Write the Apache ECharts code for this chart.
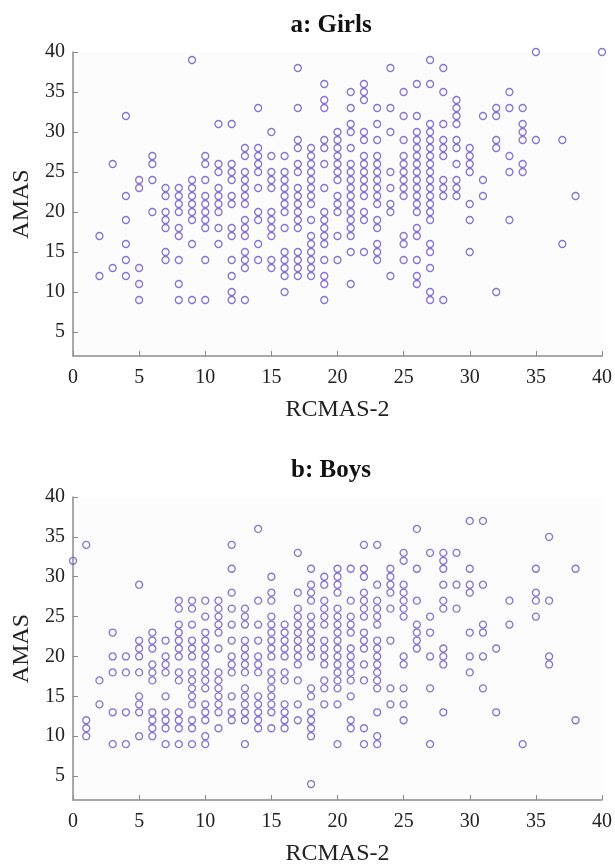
<!DOCTYPE html>
<html>
<head>
<meta charset="utf-8">
<script src="https://cdn.jsdelivr.net/npm/echarts@6/dist/echarts.min.js"></script>
<style>
  html, body { margin: 0; padding: 0; background: #fff; }
  #chart { width: 615px; height: 867px; }
</style>
</head>
<body>
<div id="chart"></div>
<script>
// RCMAS-2 score (x) and the AMAS scores seen at that x, column by column
const girlsRcmas = [2, 3, 4, 5, 6, 7, 8, 9, 10, 11, 12, 13, 14, 15, 16, 17, 18, 19, 20, 21,
    22, 23, 24, 25, 26, 27, 28, 29, 30, 31, 32, 33, 34, 35, 37, 38, 40];
const girlsAmas = [
    [17, 12],
    [26, 13],
    [32, 22, 19, 16, 14, 12],
    [24, 23, 13, 11, 9],
    [27, 26, 24, 20],
    [23, 22, 20, 19, 18, 15, 14],
    [23, 22, 21, 20, 18, 17, 14, 11, 9],
    [39, 24, 23, 22, 21, 20, 19, 16, 9],
    [27, 26, 24, 22, 21, 20, 19, 18, 14, 9],
    [31, 26, 25, 23, 22, 21, 20, 18, 16],
    [31, 26, 25, 24, 22, 21, 18, 17, 14, 12, 10, 9],
    [28, 27, 25, 24, 23, 22, 21, 19, 18, 17, 15, 14, 13, 9],
    [33, 28, 27, 26, 25, 23, 20, 19, 16, 14],
    [30, 27, 25, 24, 23, 20, 19, 18, 17, 14, 13],
    [27, 25, 24, 23, 22, 21, 20, 18, 15, 14, 13, 12, 10],
    [38, 33, 29, 28, 26, 25, 23, 22, 21, 20, 19, 18, 15, 14, 13, 12],
    [28, 27, 26, 25, 24, 23, 22, 21, 19, 17, 16, 15, 14, 13, 12],
    [36, 34, 33, 29, 28, 26, 23, 20, 19, 18, 17, 16, 14, 12, 11, 9],
    [30, 29, 28, 27, 26, 25, 24, 22, 21, 20, 17, 14],
    [35, 33, 31, 30, 28, 26, 25, 24, 23, 22, 21, 20, 19, 18, 17, 15, 11],
    [36, 35, 34, 30, 29, 27, 26, 25, 24, 23, 22, 20, 19, 15],
    [33, 31, 29, 27, 26, 25, 24, 23, 22, 21, 19, 18, 16, 15, 14],
    [38, 33, 30, 25, 23, 21, 20, 12],
    [35, 32, 29, 27, 26, 25, 24, 23, 22, 17, 16, 14],
    [36, 32, 30, 29, 28, 27, 26, 25, 24, 23, 22, 21, 20, 18, 17, 14, 12, 11],
    [39, 36, 31, 30, 29, 28, 27, 26, 25, 24, 23, 22, 21, 20, 19, 16, 15, 13, 10, 9],
    [38, 35, 31, 29, 28, 27, 24, 23, 22, 9],
    [34, 33, 32, 31, 29, 28, 26, 24, 23, 22],
    [28, 27, 26, 25, 21, 19, 15],
    [32, 24, 22],
    [33, 32, 29, 28, 10],
    [35, 33, 27, 25, 19],
    [33, 31, 30, 29, 26, 25],
    [40, 29],
    [29, 16],
    [22],
    [40]
];

const boysRcmas = [0, 1, 2, 3, 4, 5, 6, 7, 8, 9, 10, 11, 12, 13, 14, 15, 16, 17, 18, 19,
    20, 21, 22, 23, 24, 25, 26, 27, 28, 29, 30, 31, 32, 33, 34, 35, 36, 38];
const boysAmas = [
    [32],
    [34, 12, 11, 10],
    [17, 14],
    [23, 20, 18, 13, 9],
    [20, 18, 13, 9],
    [29, 22, 21, 20, 18, 15, 14, 13, 10],
    [23, 22, 21, 19, 18, 17, 13, 12, 11, 10],
    [22, 20, 19, 18, 15, 13, 12, 11, 9],
    [27, 26, 24, 23, 22, 21, 20, 18, 17, 13, 12, 11, 9],
    [27, 26, 24, 22, 21, 20, 18, 17, 16, 15, 14, 12, 11, 9],
    [27, 25, 23, 22, 21, 20, 19, 18, 17, 16, 14, 13, 12, 10, 9],
    [27, 26, 25, 24, 23, 21, 18, 17, 16, 15, 14, 13, 11],
    [34, 31, 28, 26, 24, 22, 20, 19, 18, 15, 13, 12],
    [26, 25, 24, 22, 21, 20, 19, 18, 16, 15, 14, 13, 12, 9],
    [36, 27, 24, 22, 20, 19, 18, 15, 14, 13, 12, 11],
    [30, 28, 27, 25, 24, 23, 22, 21, 20, 18, 17, 16, 15, 14, 13, 11],
    [24, 23, 22, 21, 20, 18, 17, 14, 13, 12, 11],
    [33, 28, 26, 25, 24, 23, 22, 21, 20, 19, 17, 14, 12],
    [31, 29, 28, 27, 25, 24, 23, 22, 21, 20, 16, 15, 13, 12, 11, 10, 4],
    [30, 29, 27, 26, 25, 24, 22, 21, 20, 19, 17, 16, 14],
    [31, 30, 29, 28, 26, 25, 24, 23, 22, 21, 20, 19, 18, 17, 16, 14, 9],
    [31, 27, 25, 24, 23, 21, 20, 19, 18, 17, 15, 12, 11],
    [34, 31, 30, 28, 27, 26, 25, 23, 22, 21, 19, 17, 11, 9],
    [34, 29, 27, 26, 25, 24, 22, 21, 20, 19, 18, 17, 16, 13, 10, 9],
    [31, 30, 29, 28, 26, 22, 16, 14],
    [33, 32, 29, 28, 27, 26, 25, 20, 19, 16, 14, 12],
    [36, 31, 27, 24, 23, 22, 21],
    [33, 25, 23, 20, 16, 9],
    [33, 32, 31, 29, 27, 26, 21, 20, 19, 13],
    [33, 29, 26],
    [37, 31, 29, 28, 23, 20, 18],
    [37, 29, 24, 23, 20, 16],
    [21, 13],
    [27, 24],
    [9],
    [31, 28, 27, 25],
    [35, 27, 20, 19],
    [31, 12]
];

const xTicks = [0, 5, 10, 15, 20, 25, 30, 35, 40];
const yTicks = [5, 10, 15, 20, 25, 30, 35, 40];

function toPoints(xs, cols) {
    const pts = [];
    xs.forEach((x, i) => {
        cols[i].forEach((y) => pts.push([x, y]));
    });
    return pts;
}

const serif = '"Liberation Serif", "Times New Roman", serif';
const axisColor = '#8c8c8c';

function xAxis(gridIndex) {
    return {
        type: 'value',
        gridIndex,
        min: 0,
        max: 40,
        interval: 5,
        name: 'RCMAS-2',
        nameLocation: 'middle',
        nameGap: 42,
        nameTextStyle: { fontFamily: serif, fontSize: 24, color: '#222' },
        axisLine: { show: true, lineStyle: { color: axisColor, width: 1.5 } },
        axisTick: { show: true, inside: true, length: 5, lineStyle: { color: axisColor } },
        axisLabel: { margin: 12, fontFamily: serif, fontSize: 20, color: '#222',
            customValues: xTicks },
        splitLine: { show: false }
    };
}

function yAxis(gridIndex) {
    return {
        type: 'value',
        gridIndex,
        min: 2,
        max: 40,
        name: 'AMAS',
        nameLocation: 'middle',
        nameGap: 38,
        nameRotate: 90,
        nameTextStyle: { fontFamily: serif, fontSize: 24, color: '#222' },
        axisLine: { show: true, lineStyle: { color: axisColor, width: 1.5 } },
        axisTick: { show: true, inside: true, length: 5, lineStyle: { color: axisColor },
            customValues: yTicks },
        axisLabel: { margin: 8, fontFamily: serif, fontSize: 20, color: '#222',
            customValues: yTicks },
        splitLine: { show: false }
    };
}

const marker = {
    color: 'rgba(0,0,0,0)',
    borderColor: '#6a51c6',
    borderWidth: 1.3
};

const chart = echarts.init(document.getElementById('chart'), null, { renderer: 'canvas' });
chart.setOption({
    animation: false,
    backgroundColor: '#ffffff',
    title: [
        { text: 'a: Girls', left: 326, top: 8, textAlign: 'center',
            textStyle: { fontFamily: serif, fontSize: 25, fontWeight: 'bold', color: '#111' } },
        { text: 'b: Boys', left: 326, top: 453, textAlign: 'center',
            textStyle: { fontFamily: serif, fontSize: 25, fontWeight: 'bold', color: '#111' } }
    ],
    grid: [
        { left: 73, top: 52, width: 530, height: 304, show: true,
            backgroundColor: '#fcfcfc', borderWidth: 0 },
        { left: 73, top: 497, width: 530, height: 306, show: true,
            backgroundColor: '#fcfcfc', borderWidth: 0 }
    ],
    xAxis: [xAxis(0), xAxis(1)],
    yAxis: [yAxis(0), yAxis(1)],
    series: [
        { name: 'Girls', type: 'scatter', xAxisIndex: 0, yAxisIndex: 0,
            symbol: 'circle', symbolSize: 7, itemStyle: marker,
            data: toPoints(girlsRcmas, girlsAmas) },
        { name: 'Boys', type: 'scatter', xAxisIndex: 1, yAxisIndex: 1,
            symbol: 'circle', symbolSize: 7, itemStyle: marker,
            data: toPoints(boysRcmas, boysAmas) }
    ]
});
</script>
</body>
</html>
